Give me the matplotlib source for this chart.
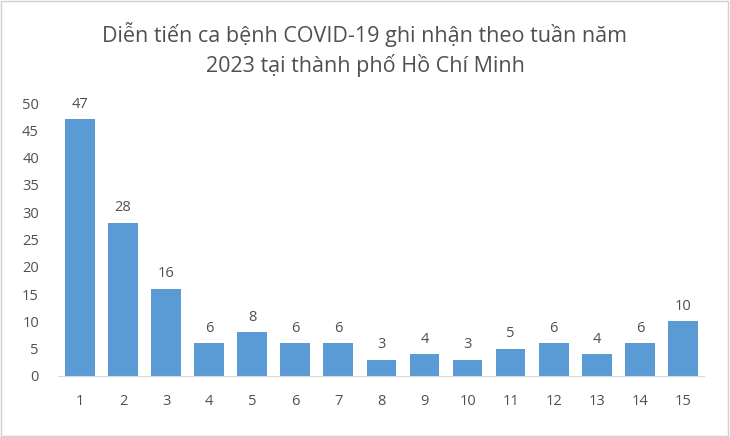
import matplotlib.pyplot as plt
from matplotlib.patches import Rectangle

# Data
weeks = [str(i) for i in range(1, 16)]
cases = [47, 28, 16, 6, 8, 6, 6, 3, 4, 3, 5, 6, 4, 6, 10]
title_lines = ['Diễn tiến ca bệnh COVID-19 ghi nhận theo tuần năm',
               '2023 tại thành phố Hồ Chí Minh']

TEXT = '#505050'
BAR = '#5B9BD5'
plt.rcParams['font.family'] = ['Open Sans', 'DejaVu Sans']

fig = plt.figure(figsize=(7.3, 4.37), dpi=100)
ax = fig.add_axes([0.080, 0.1396, 0.885, 0.6247])

bars = ax.bar(weeks, cases, width=0.69, color=BAR)
for b, v in zip(bars, cases):
    ax.text(b.get_x() + b.get_width() / 2, v + 1.4, str(v),
            ha='center', va='bottom', fontsize=10.5, color=TEXT, clip_on=False)

ax.set_xlim(-0.5, len(weeks) - 0.5)
ax.set_ylim(0, 50)
ax.set_yticks(range(0, 51, 5))

for s in ['top', 'right', 'left']:
    ax.spines[s].set_visible(False)
ax.spines['bottom'].set_color('#d9d9d9')
ax.tick_params(axis='both', length=0, colors=TEXT, labelsize=10.5)
ax.tick_params(axis='x', pad=13)
ax.tick_params(axis='y', pad=14)

fig.text(0.5, 0.922, title_lines[0], ha='center', va='center', fontsize=15.5, color=TEXT)
fig.text(0.5, 0.851, title_lines[1], ha='center', va='center', fontsize=15.5, color=TEXT)

# Light frame round the chart
fig.patches.append(Rectangle((0.002, 0.003), 0.995, 0.994, transform=fig.transFigure,
                             fill=False, edgecolor='#d0d0d0', linewidth=1))

fig.savefig('out.png', dpi=100)
